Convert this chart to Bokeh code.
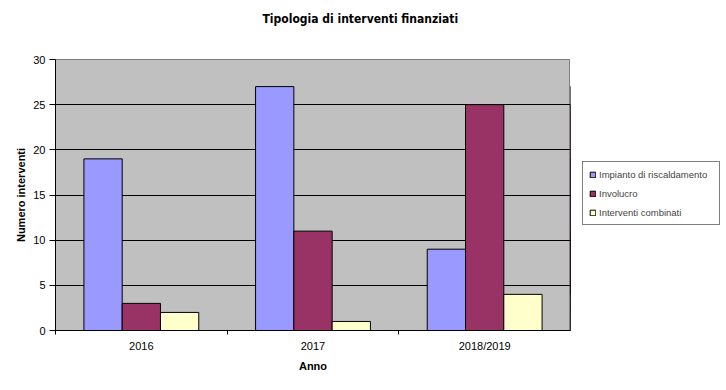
import numpy as np
from bokeh.plotting import figure
from bokeh.layouts import row
from bokeh.models import ColumnDataSource, FixedTicker, Legend, LegendItem, Range1d, Title
from bokeh.transform import dodge
from bokeh.embed import file_html
from bokeh.resources import INLINE

years = ["2016", "2017", "2018/2019"]
riscaldamento = [19, 27, 9]
involucro = [3, 11, 25]
combinati = [2, 1, 4]
series_names = ["Impianto di riscaldamento", "Involucro", "Interventi combinati"]
colors = ["#9999FF", "#993366", "#FFFFCC"]
y_ticks = [0, 5, 10, 15, 20, 25, 30]
title_text = "Tipologia di interventi finanziati"

centers = [i + 0.5 for i in range(len(years))]
src = ColumnDataSource(dict(x=centers, r=riscaldamento, i=involucro, c=combinati))
fields = ["r", "i", "c"]

FONT = "Liberation Sans"

p = figure(width=570, height=374, output_backend="svg", toolbar_location=None,
           x_range=Range1d(0, len(years)), y_range=Range1d(0, 30),
           min_border_left=55, min_border_right=0, min_border_top=0, min_border_bottom=44,
           background_fill_color="#C0C0C0", border_fill_color="white")
p.title_location = None
spacer = Title(text=" ", text_font_size="10px", standoff=12)
p.add_layout(spacer, "above")
p.add_layout(Title(text=title_text, align="left", offset=207,
                   text_font="DejaVu Sans Condensed", text_font_size="12px",
                   text_font_style="bold", text_color="black", standoff=18), "above")
p.outline_line_color = "#808080"

bw = 0.223
renderers = []
for field, off, col in zip(fields, [-bw, 0, bw], colors):
    r = p.vbar(x=dodge("x", off, range=p.x_range), top=field, width=bw, source=src,
               fill_color=col, line_color="black", line_width=1)
    renderers.append(r)

# axes
p.xaxis.ticker = FixedTicker(ticks=centers, minor_ticks=list(range(len(years) + 1)))
p.xaxis.major_label_overrides = {c: y for c, y in zip(centers, years)}
p.xaxis.major_tick_out = 0
p.xaxis.major_tick_in = 0
p.xaxis.minor_tick_out = 4
p.xaxis.minor_tick_in = 0
p.xaxis.minor_tick_line_color = "black"
p.xaxis.axis_line_color = "black"
p.xaxis.major_label_standoff = 5
p.xaxis.axis_label = "Anno"
p.xaxis.axis_label_standoff = 5

p.yaxis.ticker = FixedTicker(ticks=y_ticks)
p.yaxis.major_tick_out = 6
p.yaxis.major_tick_in = 0
p.yaxis.minor_tick_line_color = None
p.yaxis.axis_line_color = "black"
p.yaxis.major_tick_line_color = "black"
p.yaxis.major_label_standoff = 4
p.yaxis.axis_label = "Numero interventi"
p.yaxis.axis_label_standoff = 3

for ax in (p.xaxis[0], p.yaxis[0]):
    ax.major_label_text_font = FONT
    ax.major_label_text_font_size = "11px"
    ax.major_label_text_color = "black"
    ax.axis_label_text_font = FONT
    ax.axis_label_text_font_size = "11px"
    ax.axis_label_text_font_style = "bold"
    ax.axis_label_text_color = "black"

p.xgrid.visible = False
p.ygrid.ticker = FixedTicker(ticks=y_ticks)
p.ygrid.grid_line_color = "black"
p.ygrid.grid_line_width = 1

# legend panel (its own bars fall outside its visible range; only the legend shows)
lf = figure(width=150, height=374, output_backend="svg", toolbar_location=None,
            x_range=Range1d(100, 101), y_range=Range1d(0, 30),
            min_border=0, x_axis_location=None, y_axis_location=None,
            outline_line_color=None, background_fill_color="white", border_fill_color="white")
lf.grid.visible = False
lrs = []
for field, col in zip(fields, colors):
    lrs.append(lf.vbar(x="x", top=field, width=bw, source=src,
                       fill_color=col, line_color="black"))

legend = Legend(items=[LegendItem(label=n, renderers=[r]) for n, r in zip(series_names, lrs)],
                location=(12, 105), orientation="vertical",
                label_text_font=FONT, label_text_font_size="9.5px",
                glyph_width=7, glyph_height=7, label_height=12, label_width=114,
                label_standoff=3, spacing=7, padding=6, margin=0,
                border_line_color="black", border_line_width=1,
                background_fill_color="white", background_fill_alpha=1)
lf.add_layout(legend, "center")

layout = row(p, lf)
open("out.html", "w").write(file_html(layout, INLINE))
